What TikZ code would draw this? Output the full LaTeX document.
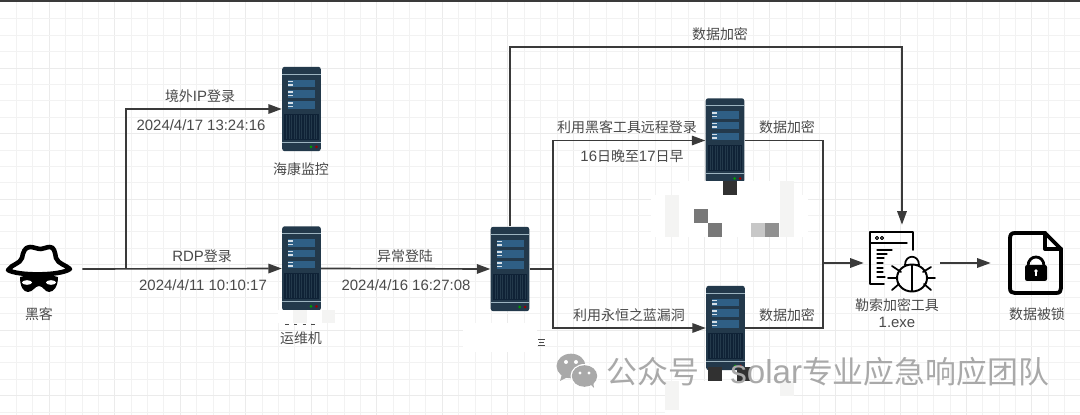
\documentclass[tikz,border=0pt]{standalone}
\usepackage{fontspec}
\setmainfont[Scale=1.07]{Liberation Sans}
\newfontfamily\cjk{Noto Sans CJK SC}
\usepackage{xcolor}
\usetikzlibrary{arrows.meta}
\definecolor{wirecol}{HTML}{3A3A3A}
\definecolor{labelcol}{HTML}{4A4A4A}
\definecolor{srvbody}{HTML}{23394B}
\definecolor{srvpanel}{HTML}{2F5F85}
\definecolor{srvgrille}{HTML}{0F2236}
\definecolor{srvline}{HTML}{9DB4C0}
\definecolor{markcol}{HTML}{A9A9A9}
\definecolor{pale}{HTML}{F4F4F3}
\tikzset{
  wire/.style={draw=wirecol,line width=0.95pt},
  flow/.style={wire,-{Triangle[length=2.7mm,width=1.9mm]}},
  tag/.style={text=labelcol,inner sep=0pt,font=\fontsize{7.95}{10}\selectfont},
  holder/.style={inner sep=0pt,minimum width=#1*0.02cm,minimum height=1.52cm},
  serverbox/.style={inner sep=0pt,minimum width=0.774cm,minimum height=1.69cm,
    fill=srvbody,rounded corners=1.5pt},
  ink/.style={draw=black,line cap=round,line join=round},
  stamp/.style={text=markcol,inner sep=0pt,anchor=west,font=\fontsize{17.6}{22}\selectfont},
}
% one rack server, name and centre
\newcommand{\rackserver}[2]{
\node[serverbox] (#1) at (#2) {};
\begin{scope}[shift={(#2)}]
\draw[srvline,line width=0.5pt] (-19.3,-35) -- (19.3,-35);
\foreach \yy in {-29,-18.5,-7.5} {
  \fill[srvpanel] (-13.5,\yy) rectangle (13.5,\yy+7.3);
  \fill[white!80!srvpanel] (-13.5,\yy+0.8) rectangle (-8.5,\yy+2.2);
  \fill[white!80!srvpanel] (-13.5,\yy+4.4) rectangle (-8.5,\yy+5.8);
}
\fill[srvgrille] (-17.3,5) rectangle (17.3,31);
\foreach \xx in {-15,-12.5,...,15} \draw[srvbody,line width=0.25pt] (\xx,6) -- (\xx,30);
\draw[srvline,line width=0.5pt] (-19.3,33) -- (19.3,33);
\fill[green!60!black] (9.5,38) circle (1.5);
\fill[red!60!black] (15,38) circle (1.5);
\end{scope}
}
\begin{document}
\begin{tikzpicture}[x=0.02cm,y=-0.02cm,>={Stealth[length=2mm]}]
\useasboundingbox (0,0) rectangle (1080,415);
\fill[white] (0,0) rectangle (1080,415);
% grid
\foreach \k in {1,...,65} {
  \pgfmathsetmacro{\gx}{16.38*\k}
  \pgfmathtruncatemacro{\hv}{mod(\k,4)==3 ? 1 : 0}
  \ifnum\hv=1 \draw[black!8,line width=0.55pt] (\gx,0) -- (\gx,415);
  \else \draw[black!5,line width=0.45pt] (\gx,0) -- (\gx,415); \fi
}
\foreach \k in {1,...,25} {
  \pgfmathsetmacro{\gy}{2.5+16.38*\k}
  \pgfmathtruncatemacro{\hv}{mod(\k,4)==0 ? 1 : 0}
  \ifnum\hv=1 \draw[black!8,line width=0.55pt] (0,\gy) -- (1080,\gy);
  \else \draw[black!5,line width=0.45pt] (0,\gy) -- (1080,\gy); \fi
}
\fill[wirecol] (0,0) rectangle (1080,2);
% servers and holders
\rackserver{srvCam}{301.5,109}
\rackserver{srvOps}{301.5,268.5}
\rackserver{srvJump}{510,269}
\rackserver{srvUp}{725,140.5}
\rackserver{srvDown}{725.5,328}
\node[holder=86] (hacker) at (39,269) {};
\node[holder=76] (tool) at (902,263) {};
\node[holder=88] (locked) at (1035,263) {};
% connectors
\coordinate (jctA) at (126,269);
\coordinate (jctB) at (553,269);
\coordinate (jctC) at (823,263);
\coordinate (topRun) at (902,47);
\draw[flow] (hacker.east) -- (srvOps.west);
\draw[flow] (jctA) |- (srvCam.west);
\draw[flow] (srvOps.east) -- (srvJump.west);
\draw[wire] (srvJump.east) -- (jctB);
\draw[flow] (jctB) |- (srvUp.west);
\draw[flow] (jctB) |- (srvDown.west);
\draw[flow] (srvJump.north) |- (topRun) -- (tool.north);
\draw[wire] (srvUp.east) -| (jctC);
\draw[wire] (srvDown.east) -| (jctC);
\draw[flow] (jctC) -- (tool.west);
\draw[flow] (tool.east) -- (locked.west);
% hacker icon
\path[ink,fill=white,line width=2.6pt] (8,270) .. controls (12,264) and (20,264) .. (22,258)
  .. controls (23,252) and (25,247) .. (30,247) .. controls (34,247) and (37,249) .. (41,249)
  .. controls (44,249) and (46,247) .. (50,247) .. controls (54,247) and (55,252) .. (56,258)
  .. controls (58,264) and (66,265) .. (70,269) .. controls (60,276) and (18,276) .. (8,270) -- cycle;
\fill[black] (20,277) .. controls (30,274) and (48,274) .. (58,277) .. controls (58,286) and (54,292) .. (49,292)
  .. controls (45,292) and (43,286) .. (39,286) .. controls (35,286) and (33,292) .. (28,292)
  .. controls (23,292) and (20,286) .. (20,277) -- cycle;
\fill[white] (27,282.5) ellipse (5 and 2.3);
\fill[white] (51,282.5) ellipse (5 and 2.3);
% tool icon
\draw[ink,line width=1.1pt] (913,250) -- (913,232) -- (870,232) -- (870,284) -- (884,284);
\draw[ink,line width=0.8pt] (871,243) -- (907,243);
\draw[ink,line width=0.6pt] (877,238) circle (1.6) (882,238) circle (1.6);
\draw[ink,line width=0.7pt] (877,250) -- (892,250) (877,254) -- (887,254) (877,258) -- (884,258)
  (877,263) -- (883,263) (877,268) -- (883,268) (877,272) -- (883,272) (877,277) -- (885,277);
\path[ink,fill=white,line width=1pt] (905,265) .. controls (905,254) and (919,254) .. (919,265) -- cycle;
\path[ink,fill=white,line width=1.1pt] (912,278) ellipse (15 and 13.5);
\draw[ink,line width=1pt] (912,265) -- (912,291) (892,266) -- (901,272) (931,267) -- (923,272)
  (888,278) -- (897,278) (927,278) -- (935,278) (892,290) -- (899,284) (931,290) -- (924,284);
% locked file icon
\draw[ink,line width=2.2pt] (1045,233) -- (1015,233) .. controls (1011,233) and (1010,235) .. (1010,239)
  -- (1010,288) .. controls (1010,292) and (1012,293) .. (1015,293) -- (1056,293)
  .. controls (1060,293) and (1061,291) .. (1061,288) -- (1061,249) -- cycle;
\draw[ink,line width=2.2pt] (1045,233) -- (1045,249) -- (1061,249);
\draw[ink,line width=1.6pt] (1028,266) .. controls (1028,254) and (1044,254) .. (1044,266);
\fill[black,rounded corners=1.2pt] (1025,265) rectangle (1047,281);
\fill[white] (1036,271) circle (1.8);
\fill[white] (1035.2,271) rectangle (1036.8,276);
% masked spots
\fill[white] (651,195) rectangle (808,237);
\fill[white] (680,181) rectangle (780,195);
\fill[pale] (665,195) rectangle (679,237);
\fill[pale] (780,181) rectangle (794,237);
\fill[wirecol!85!black] (723,181) rectangle (737,195);
\fill[black!53] (694,209) rectangle (708,223);
\fill[black!53] (708,223) rectangle (722,237);
\fill[black!22] (751,223) rectangle (765,237);
\fill[black!43] (765,223) rectangle (779,237);
\fill[white] (665,381) rectangle (790,415);
\fill[pale] (665,381) rectangle (679,410);
\fill[pale] (780,381) rectangle (794,396);
\fill[wirecol!85!black] (708,367) rectangle (722,381);
\fill[wirecol!85!black] (737,367) rectangle (751,381);
\fill[white] (463,323) rectangle (537,352);
\fill[white] (278,310) rectangle (335,323);
\fill[pale] (293,310) rectangle (307,323);
\fill[pale] (322,310) rectangle (335,323);
\draw[labelcol,line width=0.4pt] (538,339) -- (545,339) (539,342) -- (544,342) (538,345) -- (545,345);
\draw[labelcol,line width=0.5pt,dash pattern=on 2pt off 3pt] (285,324) -- (318,324);
% labels
\node[tag] (lbForeign) at (200,96) {{\cjk 境外}IP{\cjk 登录}};
\node[tag] (lbForeignT) at (201,125) {2024/4/17 13:24:16};
\node[tag] (lbCam) at (301,169) {\cjk 海康监控};
\node[tag] (lbRdp) at (202,256) {RDP{\cjk 登录}};
\node[tag] (lbRdpT) at (203,285) {2024/4/11 10:10:17};
\node[tag] (lbHacker) at (39,314) {\cjk 黑客};
\node[tag] (lbOps) at (301,338) {\cjk 运维机};
\node[tag] (lbOdd) at (405,256) {\cjk 异常登陆};
\node[tag] (lbOddT) at (406,285) {2024/4/16 16:27:08};
\node[tag] (lbTop) at (720,34) {\cjk 数据加密};
\node[tag] (lbRemote) at (627,127) {\cjk 利用黑客工具远程登录};
\node[tag] (lbNight) at (632,156) {16{\cjk 日晚至}17{\cjk 日早}};
\node[tag] (lbEncUp) at (787,127) {\cjk 数据加密};
\node[tag] (lbEternal) at (629,315) {\cjk 利用永恒之蓝漏洞};
\node[tag] (lbEncDown) at (787,315) {\cjk 数据加密};
\node[tag] (lbTool) at (897,305) {\cjk 勒索加密工具};
\node[tag] (lbExe) at (897,322) {1.exe};
\node[tag] (lbLocked) at (1037,314) {\cjk 数据被锁};
% watermark
\fill[markcol] (571,366) ellipse (14.5 and 12.3);
\fill[markcol] (562,374) -- (560,381) -- (568,377) -- cycle;
\fill[white] (584.5,376) ellipse (14 and 12);
\fill[markcol] (584.5,376) ellipse (12.7 and 10.8);
\fill[markcol] (590,384) -- (594,388) -- (593,381) -- cycle;
\fill[white] (566,362) circle (2) (576,362) circle (2) (580,373) circle (1.7) (589,373) circle (1.7);
\node[stamp] (markA) at (606,372) {\cjk 公众号};
\node[stamp] (markB) at (730,372) {solar{\cjk 专业应急响应团队}};
\end{tikzpicture}
\end{document}
